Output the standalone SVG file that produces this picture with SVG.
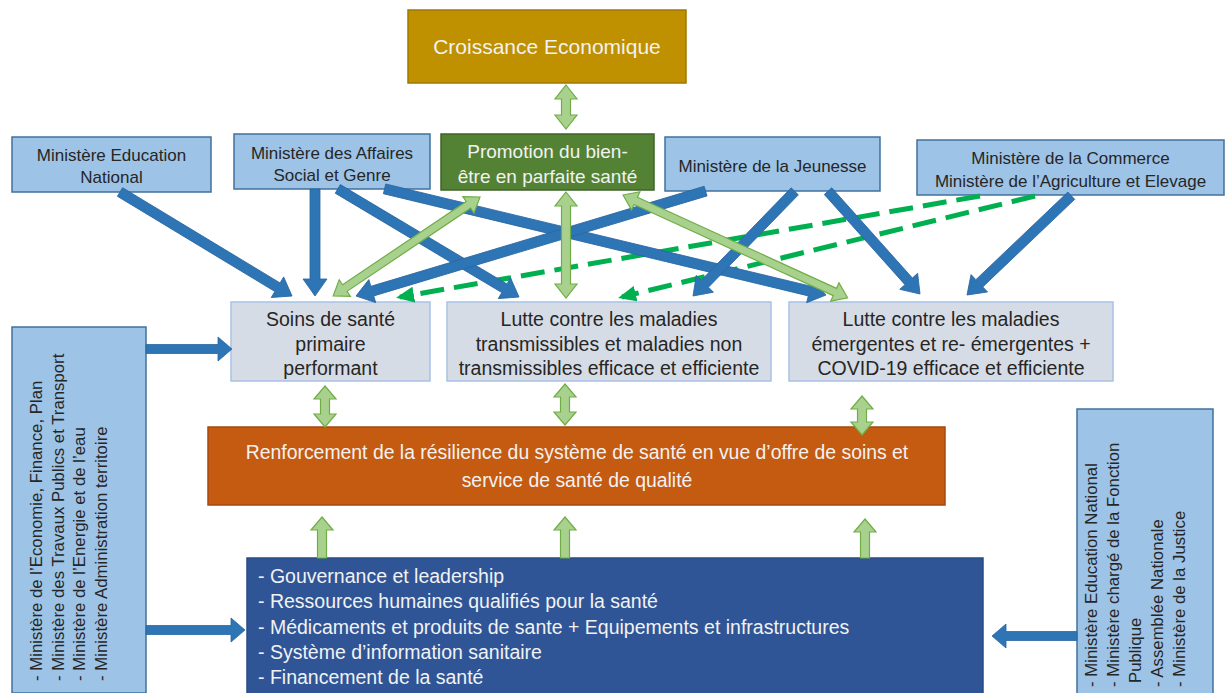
<svg xmlns="http://www.w3.org/2000/svg" width="1232" height="693" viewBox="0 0 1232 693">
<defs>
<style>
text{font-family:"Liberation Sans",Arial,sans-serif}
.min{fill:#9DC3E6;stroke:#41719C;stroke-width:1.5}
.mid{fill:#D6DCE5;stroke:#A9C2E6;stroke-width:1.5}
.t-dark{fill:#262626;font-size:17px;text-anchor:middle}
.t-mid{fill:#262626;font-size:19.5px;text-anchor:middle}
.t-vert{fill:#262626;font-size:16.8px}
.t-white{fill:#F2F2F2}
.blue-arr{fill:#2E75B6;stroke:#2A66A0;stroke-width:0.8}
.green-arr{fill:#A9D18E;stroke:#70AD47;stroke-width:1.2}
.dash{stroke:#00B050;stroke-width:5;stroke-dasharray:24 10;fill:none}
</style>
<marker id="gh" markerUnits="userSpaceOnUse" markerWidth="20" markerHeight="16" refX="14" refY="8" orient="auto">
<path d="M0,0 L18,8 L0,16 Z" fill="#00B050"/>
</marker>
</defs>

<g id="croissance">
<rect x="408" y="10" width="278" height="73" fill="#BF9000" stroke="#A07800" stroke-width="1.5"/>
<text x="547" y="54" class="t-white" font-size="21" text-anchor="middle">Croissance Economique</text>
</g>
<g id="promotion">
<rect x="441" y="134" width="213" height="56" fill="#548235" stroke="#3F6328" stroke-width="1.5"/>
<text x="547.5" y="158" class="t-white" font-size="19" text-anchor="middle">Promotion du bien-</text>
<text x="547.5" y="183" class="t-white" font-size="19" text-anchor="middle">être en parfaite santé</text>
</g>
<g id="min-education">
<rect x="12" y="137" width="199" height="55" class="min"/>
<text x="111.5" y="161" class="t-dark">Ministère Education</text>
<text x="111.5" y="183" class="t-dark">National</text>
</g>
<g id="min-affaires">
<rect x="234" y="134" width="196" height="55" class="min"/>
<text x="332" y="159" class="t-dark">Ministère des Affaires</text>
<text x="332" y="181" class="t-dark">Social et Genre</text>
</g>
<g id="min-jeunesse">
<rect x="665" y="137" width="215" height="54" class="min"/>
<text x="772.5" y="172" class="t-dark">Ministère de la Jeunesse</text>
</g>
<g id="min-commerce">
<rect x="917" y="140" width="307" height="55" class="min"/>
<text x="1070.5" y="164" class="t-dark">Ministère de la Commerce</text>
<text x="1070.5" y="187" class="t-dark">Ministère de l’Agriculture et Elevage</text>
</g>
<g id="soins">
<rect x="231" y="302" width="199" height="79" class="mid"/>
<text x="330.5" y="326" class="t-mid" font-size="18.5">Soins de santé</text>
<text x="330.5" y="351" class="t-mid" font-size="18.5">primaire</text>
<text x="330.5" y="375" class="t-mid" font-size="18.5">performant</text>
</g>
<g id="lutte-transmissibles">
<rect x="447" y="302" width="324" height="79" class="mid"/>
<text x="609" y="326" class="t-mid">Lutte contre les maladies</text>
<text x="609" y="351" class="t-mid">transmissibles et maladies non</text>
<text x="609" y="375" class="t-mid">transmissibles efficace et efficiente</text>
</g>
<g id="lutte-emergentes">
<rect x="789" y="302" width="324" height="79" class="mid"/>
<text x="951" y="326" class="t-mid">Lutte contre les maladies</text>
<text x="951" y="351" class="t-mid">émergentes et re- émergentes +</text>
<text x="951" y="375" class="t-mid">COVID-19 efficace et efficiente</text>
</g>
<g id="ministeres-gauche">
<rect x="12" y="327" width="134" height="366" class="min"/>
<text class="t-vert" transform="translate(42,681) rotate(-90)" font-size="15.5">- Ministère de l’Economie, Finance, Plan</text>
<text class="t-vert" transform="translate(63.5,681) rotate(-90)" font-size="17">- Ministère des Travaux Publics et Transport</text>
<text class="t-vert" transform="translate(85,681) rotate(-90)" font-size="17">- Ministère de l’Energie et de l’eau</text>
<text class="t-vert" transform="translate(107,681) rotate(-90)" font-size="17">- Ministère Administration territoire</text>
</g>
<g id="renforcement">
<rect x="208" y="427" width="737" height="78" fill="#C55A11" stroke="#A54A0E" stroke-width="1.5"/>
<text x="577" y="459" class="t-white" font-size="19.4" text-anchor="middle">Renforcement de la résilience du système de santé en vue d’offre de soins et</text>
<text x="577" y="487" class="t-white" font-size="19.4" text-anchor="middle">service de santé de qualité</text>
</g>
<g id="piliers">
<rect x="247" y="558" width="736" height="140" fill="#2F5597" stroke="#2A4C85" stroke-width="1.5"/>
<text x="258" y="583" class="t-white" font-size="19.5">- Gouvernance et leadership</text>
<text x="258" y="608" class="t-white" font-size="19.5">- Ressources humaines qualifiés pour la santé</text>
<text x="258" y="634" class="t-white" font-size="19.5">- Médicaments et produits de sante + Equipements et infrastructures</text>
<text x="258" y="659" class="t-white" font-size="19.5">- Système d’information sanitaire</text>
<text x="258" y="684" class="t-white" font-size="19.5">- Financement de la santé</text>
</g>
<g id="ministeres-droite">
<rect x="1077" y="409" width="136" height="290" class="min"/>
<text class="t-vert" transform="translate(1097,687) rotate(-90)">- Ministère Education National</text>
<text class="t-vert" transform="translate(1119,687) rotate(-90)">- Ministère chargé de la Fonction</text>
<text class="t-vert" transform="translate(1141,683) rotate(-90)">Publique</text>
<text class="t-vert" transform="translate(1163,687) rotate(-90)">- Assemblée Nationale</text>
<text class="t-vert" transform="translate(1185,687) rotate(-90)">- Ministère de la Justice</text>
</g>

<g id="connectors">
<line x1="980" y1="196" x2="400" y2="297" class="dash" marker-end="url(#gh)"/>
<line x1="1035" y1="196" x2="622" y2="297" class="dash" marker-end="url(#gh)"/>
<path class="blue-arr" transform="translate(292,296) rotate(-148.84)" d="M0,0 L17,-12 L17,-5 L201,-5 L201,5 L17,5 L17,12 Z"/>
<path class="blue-arr" transform="translate(315,296) rotate(-90)" d="M0,0 L17,-12 L17,-5 L107,-5 L107,5 L17,5 L17,12 Z"/>
<path class="blue-arr" transform="translate(519,297) rotate(-149.18)" d="M0,0 L17,-12 L17,-5 L211,-5 L211,5 L17,5 L17,12 Z"/>
<path class="blue-arr" transform="translate(826,295) rotate(-166.48)" d="M0,0 L17,-12 L17,-5 L454,-5 L454,5 L17,5 L17,12 Z"/>
<path class="blue-arr" transform="translate(356,296) rotate(-16.7)" d="M0,0 L17,-12 L17,-5 L365,-5 L365,5 L17,5 L17,12 Z"/>
<path class="blue-arr" transform="translate(693,296) rotate(-45.8)" d="M0,0 L17,-12 L17,-5 L146,-5 L146,5 L17,5 L17,12 Z"/>
<path class="blue-arr" transform="translate(920,294) rotate(-131.8)" d="M0,0 L17,-12 L17,-5 L138,-5 L138,5 L17,5 L17,12 Z"/>
<path class="blue-arr" transform="translate(967,295) rotate(-43.6)" d="M0,0 L17,-12 L17,-5 L144,-5 L144,5 L17,5 L17,12 Z"/>
<path class="blue-arr" transform="translate(232,349) rotate(180)" d="M0,0 L14,-12 L14,-4.5 L86,-4.5 L86,4.5 L14,4.5 L14,12 Z"/>
<path class="blue-arr" transform="translate(245,630) rotate(180)" d="M0,0 L14,-12 L14,-4.5 L99,-4.5 L99,4.5 L14,4.5 L14,12 Z"/>
<path class="blue-arr" transform="translate(992,636)" d="M0,0 L14,-12 L14,-4.5 L85,-4.5 L85,4.5 L14,4.5 L14,12 Z"/>
<path class="green-arr" transform="translate(566,85) rotate(90)" d="M0,0 L14,-11 L14,-4.5 L30,-4.5 L30,-11 L44,0 L30,11 L30,4.5 L14,4.5 L14,11 Z"/>
<path class="green-arr" transform="translate(566,192) rotate(90)" d="M0,0 L14,-11 L14,-4.5 L92,-4.5 L92,-11 L106,0 L92,11 L92,4.5 L14,4.5 L14,11 Z"/>
<path class="green-arr" transform="translate(480,197) rotate(146.04)" d="M0,0 L14,-10 L14,-4 L163,-4 L163,-10 L177,0 L163,10 L163,4 L14,4 L14,10 Z"/>
<path class="green-arr" transform="translate(623,195) rotate(24.6)" d="M0,0 L14,-10 L14,-4 L233,-4 L233,-10 L247,0 L233,10 L233,4 L14,4 L14,10 Z"/>
<path class="green-arr" transform="translate(325,386) rotate(90)" d="M0,0 L13,-11 L13,-4.5 L28,-4.5 L28,-11 L41,0 L28,11 L28,4.5 L13,4.5 L13,11 Z"/>
<path class="green-arr" transform="translate(565,384) rotate(90)" d="M0,0 L13,-11 L13,-4.5 L28,-4.5 L28,-11 L41,0 L28,11 L28,4.5 L13,4.5 L13,11 Z"/>
<path class="green-arr" transform="translate(862,396) rotate(90)" d="M0,0 L13,-11 L13,-4.5 L26,-4.5 L26,-11 L39,0 L26,11 L26,4.5 L13,4.5 L13,11 Z"/>
<path class="green-arr" transform="translate(322,517) rotate(90)" d="M0,0 L13,-11 L13,-4.5 L41,-4.5 L41,4.5 L13,4.5 L13,11 Z"/>
<path class="green-arr" transform="translate(565,517) rotate(90)" d="M0,0 L13,-11 L13,-4.5 L41,-4.5 L41,4.5 L13,4.5 L13,11 Z"/>
<path class="green-arr" transform="translate(865,519) rotate(90)" d="M0,0 L13,-11 L13,-4.5 L39,-4.5 L39,4.5 L13,4.5 L13,11 Z"/>
</g>
</svg>
